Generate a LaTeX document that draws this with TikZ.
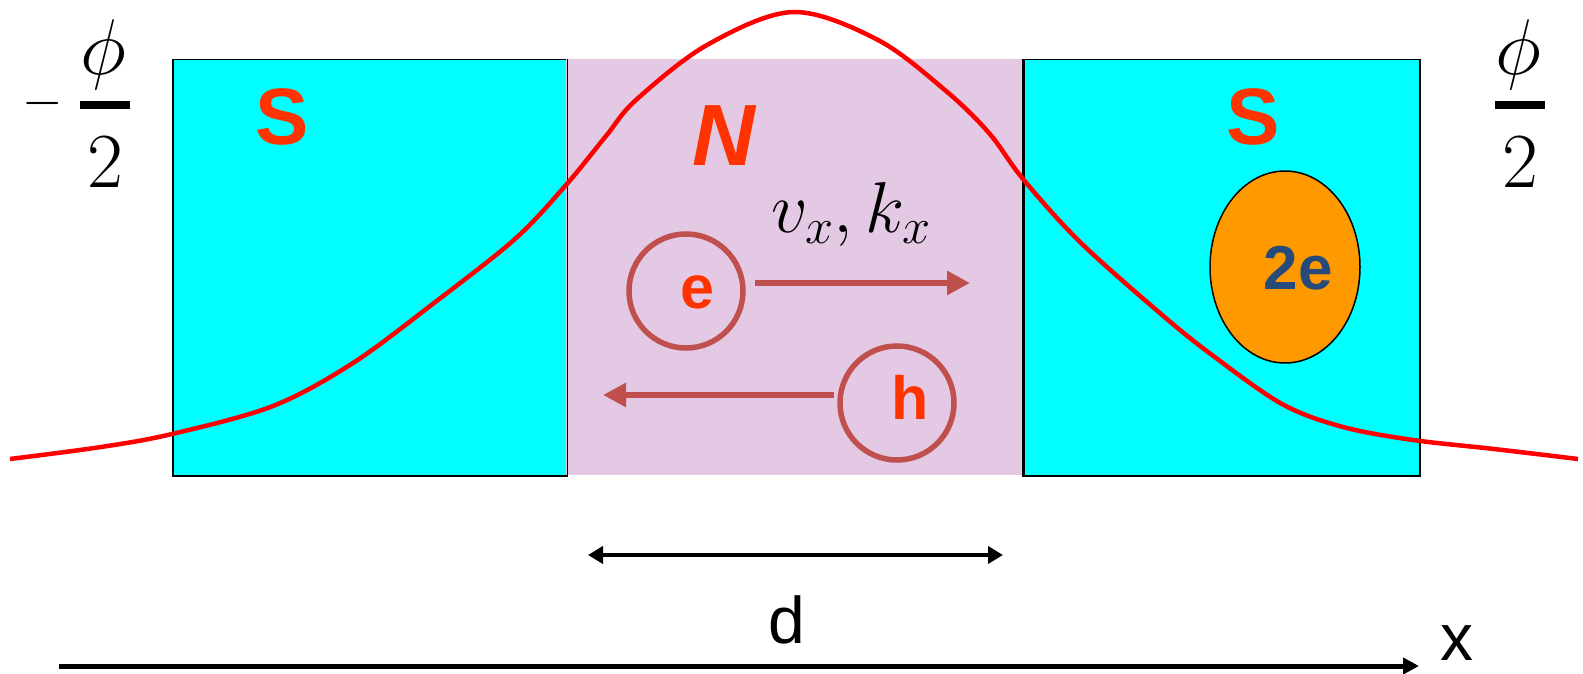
\RequirePackage{fix-cm}
\documentclass[tikz,border=0pt]{standalone}
\usepackage{fontspec}
\setmainfont{Liberation Sans}
\usetikzlibrary{arrows.meta,shapes.geometric}
\definecolor{cyanbox}{RGB}{0,255,255}
\definecolor{nregion}{RGB}{227,201,227}
\definecolor{labred}{RGB}{255,51,0}
\definecolor{partred}{RGB}{192,80,77}
\definecolor{pairorange}{RGB}{255,153,0}
\definecolor{pairblue}{RGB}{38,74,122}
\begin{document}
\begin{tikzpicture}[x=1pt,y=-1pt,
  sbox/.style={draw=black, line width=1.5pt, fill=cyanbox, inner sep=0pt, anchor=north west, minimum height=416pt},
  reglabel/.style={text=labred, font=\fontsize{80}{92}\selectfont\bfseries, inner sep=0pt},
  particle/.style={circle, draw=partred, line width=5.5pt, minimum size=114pt, inner sep=0pt},
  partlabel/.style={text=labred, font=\fontsize{61}{72}\selectfont\bfseries, inner sep=0pt},
  motion/.style={draw=partred, line width=6pt, -{Triangle[length=23pt,width=23pt]}},
  fracnum/.style={font=\fontsize{79}{90}\selectfont, inner sep=0pt},
  fracden/.style={font=\fontsize{78}{90}\selectfont, inner sep=0pt},
  fracbar/.style={line width=8pt},
  blackarrow/.style={line width=4.5pt}
]
\useasboundingbox (0,0) rectangle (1583,674);
% regions
\node[sbox, minimum width=394pt] (sleft) at (172,59) {};
\node[fill=nregion, inner sep=0pt, anchor=north west, minimum width=457pt, minimum height=416pt] (nreg) at (566,59) {};
\node[sbox, minimum width=396pt] (sright) at (1023,59) {};
\draw[line width=1.5pt] (sleft.north east) -- (sleft.south east);
\draw[line width=1.5pt] (sright.north west) -- (sright.south west);
% curve
\draw[red, line width=4.5pt, line join=round] plot[smooth, tension=0.55] coordinates {
 (10,459) (101,447) (172,434) (273,406) (353,363) (434,303) (515,239) (566,185)
 (606,136) (636,100) (707,45) (793,12) (878,40) (946,91) (989,133) (1023,179)
 (1080,242) (1161,314) (1212,355) (1282,404) (1343,427) (1413,440) (1494,449) (1578,459)};
% labels S N
\node[reglabel] (slab) at (282,117) {S};
\node[reglabel] (srlab) at (1253,117) {S};
\node[reglabel, font=\fontsize{87}{100}\selectfont\bfseries\itshape] (nlab) at (724,136) {N};
% fractions
\node[font=\fontsize{52}{60}\selectfont, inner sep=0pt] (minus) at (43,104) {$-$};
\node[fracnum] (phil) at (103,55) {$\phi$};
\draw[fracbar] (80,105) -- (130,105);
\node[fracden] (twol) at (105,162) {$2$};
\node[fracnum] (phir) at (1518,55) {$\phi$};
\draw[fracbar] (1495,105) -- (1545,105);
\node[fracden] (twor) at (1520,162) {$2$};
% particles
\node[particle] (ecirc) at (686,291) {};
\node[partlabel] (elab) at (697,292) {e};
\node[particle] (hcirc) at (897,403) {};
\node[partlabel] (hlab) at (910,397) {h};
\coordinate (eend) at (970,283);
\coordinate (hend) at (603,395);
\coordinate (estart) at (755,283);
\coordinate (hstart) at (834,395);
\draw[motion] (estart) -- (eend);
\draw[motion] (hstart) -- (hend);
\node[font=\fontsize{72}{84}\selectfont, inner sep=0pt] (vk) at (851,215) {$v_x,k_x$};
% pair
\node[ellipse, draw=black, line width=1.5pt, fill=pairorange, minimum width=150pt, minimum height=192pt, inner sep=0pt] (pair) at (1285,267) {};
\node[text=pairblue, font=\fontsize{62}{72}\selectfont\bfseries, inner sep=0pt] (pairlab) at (1298,268) {2e};
% d
\coordinate (dl) at (588,555);
\coordinate (dr) at (1003,555);
\draw[blackarrow, {Triangle[length=15pt,width=17pt]}-{Triangle[length=15pt,width=17pt]}] (dl) -- (dr);
\node[font=\fontsize{66}{78}\selectfont, inner sep=0pt] (dlab) at (787,620) {d};
% x axis
\coordinate (xl) at (59,666);
\coordinate (xr) at (1419,666);
\draw[line width=5pt, -{Triangle[length=16pt,width=16pt]}] (xl) -- (xr);
\node[font=\fontsize{66}{78}\selectfont, inner sep=0pt] (xlab) at (1457,643) {x};
\end{tikzpicture}
\end{document}
